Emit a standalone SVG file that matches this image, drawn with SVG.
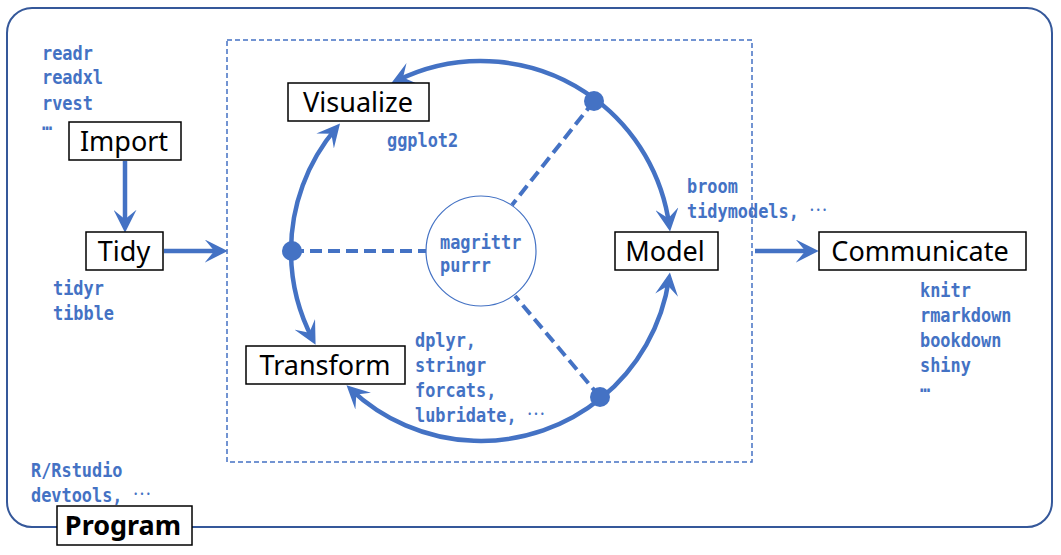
<svg xmlns="http://www.w3.org/2000/svg" width="1061" height="555" viewBox="0 0 1061 555">
<style>
.box{fill:#fff;stroke:#000;stroke-width:1.5}
.lbl{font-family:"Noto Sans","Open Sans",sans-serif;font-size:27px;fill:#000;text-anchor:middle}
.pkg{font-family:"DejaVu Sans Mono","Liberation Mono",monospace;font-size:19px;fill:#4472C4;font-weight:bold;transform-box:fill-box;transform-origin:0 0;transform:scaleX(0.89)}
.ell{font-family:"Noto Sans CJK JP",sans-serif;font-weight:normal}
.conn{fill:none;stroke:#4472C4;stroke-width:4.5;marker-end:url(#arr)}
.dash{fill:none;stroke:#4472C4;stroke-width:4;stroke-dasharray:12 6}
.dot{fill:#4472C4}
</style>
<defs>
<marker id="arr" markerUnits="userSpaceOnUse" markerWidth="23" markerHeight="23" viewBox="0 0 24 24" refX="18" refY="12" orient="auto">
<path d="M24,12 L0,0 L10,12 L0,24 Z" fill="#4472C4"/>
</marker>
</defs>
<rect id="frame" x="7" y="8" width="1045" height="519" rx="25" ry="25" fill="none" stroke="#35589A" stroke-width="2"/>
<rect id="cycle-box" x="227" y="40" width="525" height="422" fill="none" stroke="#4472C4" stroke-width="1.5" stroke-dasharray="5 3"/>
<g id="connectors">
<path class="conn" d="M125,161 L125,227"/>
<path class="conn" d="M164,251 L222,251"/>
<path class="conn" d="M755,251 L813,251"/>
<path class="conn" d="M595.3,99.3 A190,190 0 0 0 396.2,81"/>
<path class="conn" d="M595.3,99.3 A190,190 0 0 1 669.3,225.9"/>
<path class="conn" d="M600.6,398.6 A190,190 0 0 0 669.1,278.1"/>
<path class="conn" d="M600.6,398.6 A190,190 0 0 1 350.7,389.3"/>
<path class="conn" d="M291,251 A190,190 0 0 1 336.3,127.9"/>
<path class="conn" d="M291,251 A190,190 0 0 0 312.9,339.6"/>
<path class="dash" d="M594,101 L512,205"/>
<path class="dash" d="M292,251 L426,251"/>
<path class="dash" d="M600,397 L515,296"/>
<circle class="dot" cx="594" cy="101" r="10"/>
<circle class="dot" cx="292" cy="251" r="10"/>
<circle class="dot" cx="600" cy="397" r="10"/>
</g>
<g id="hub">
<circle cx="481" cy="251" r="55" fill="#fff" stroke="#4472C4" stroke-width="1.2"/>
<text class="pkg" x="440" y="249">magrittr</text>
<text class="pkg" x="440" y="272">purrr</text>
</g>
<g id="import">
<rect class="box" x="69" y="122" width="112" height="38"/>
<text class="lbl" x="124" y="151">Import</text>
</g>
<g id="tidy">
<rect class="box" x="86" y="232" width="77" height="38"/>
<text class="lbl" x="124" y="261">Tidy</text>
</g>
<g id="visualize">
<rect class="box" x="288" y="83" width="141" height="38"/>
<text class="lbl" x="358" y="112">Visualize</text>
</g>
<g id="transform">
<rect class="box" x="246" y="346" width="159" height="38"/>
<text class="lbl" x="325" y="375">Transform</text>
</g>
<g id="model">
<rect class="box" x="615" y="232" width="103" height="38"/>
<text class="lbl" x="665" y="261">Model</text>
</g>
<g id="communicate">
<rect class="box" x="819" y="232" width="207" height="38"/>
<text class="lbl" x="920" y="261">Communicate</text>
</g>
<g id="program">
<rect class="box" x="57" y="506" width="135" height="39"/>
<text class="lbl" x="123" y="535" font-weight="bold">Program</text>
</g>
<g id="labels">
<text class="pkg" x="42" y="60">readr</text>
<text class="pkg" x="42" y="84">readxl</text>
<text class="pkg" x="42" y="110">rvest</text>
<text class="pkg" x="42" y="130">…</text>
<text class="pkg" x="53" y="295">tidyr</text>
<text class="pkg" x="53" y="320">tibble</text>
<text class="pkg" x="387" y="147">ggplot2</text>
<text class="pkg" x="687" y="193">broom</text>
<text class="pkg" x="687" y="218">tidymodels, <tspan class="ell" dy="-7">…</tspan></text>
<text class="pkg" x="415" y="347">dplyr,</text>
<text class="pkg" x="415" y="372">stringr</text>
<text class="pkg" x="415" y="397">forcats,</text>
<text class="pkg" x="415" y="422">lubridate, <tspan class="ell" dy="-7">…</tspan></text>
<text class="pkg" x="920" y="297">knitr</text>
<text class="pkg" x="920" y="322">rmarkdown</text>
<text class="pkg" x="920" y="347">bookdown</text>
<text class="pkg" x="920" y="372">shiny</text>
<text class="pkg" x="920" y="392">…</text>
<text class="pkg" x="31" y="477">R/Rstudio</text>
<text class="pkg" x="31" y="502">devtools, <tspan class="ell" dy="-7">…</tspan></text>
</g>
</svg>
